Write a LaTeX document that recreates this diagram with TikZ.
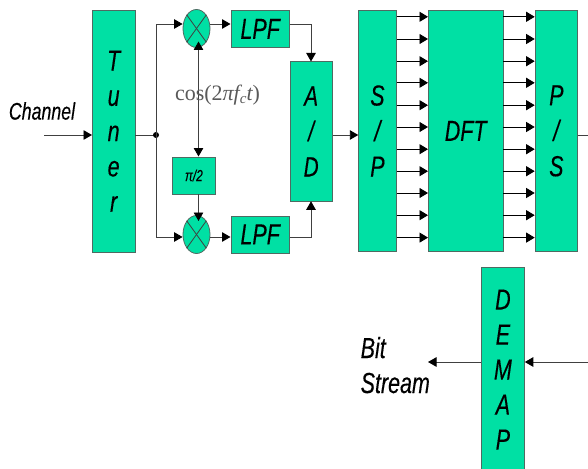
\documentclass[tikz,border=0pt]{standalone}
\usepackage{fontspec}
\setmainfont[FakeStretch=0.74,FakeBold=0.25]{Liberation Sans}
\newfontfamily\serifcos{Liberation Serif}
\usetikzlibrary{arrows.meta,shapes.geometric}
\definecolor{boxgreen}{HTML}{00E0A4}
\definecolor{edgegray}{HTML}{4F6A62}
\definecolor{wiregray}{HTML}{404040}
\tikzset{
  block/.style={draw=edgegray,line width=0.8pt,fill=boxgreen,inner sep=0pt,text=black,align=center,anchor=north west},
  bfont/.style 2 args={font=\fontsize{#1}{#2}\selectfont\itshape},
  wire/.style={draw=wiregray,line width=0.9pt,-{Triangle[length=8.5pt,width=9.5pt,black]}},
  bothwire/.style={draw=wiregray,line width=0.9pt,{Triangle[length=8.5pt,width=9.5pt,black]}-{Triangle[length=8.5pt,width=9.5pt,black]}},
  plainwire/.style={draw=wiregray,line width=1pt},
  busarrow/.style={draw=black,line width=0.9pt,-{Triangle[length=8.5pt,width=10pt,black]}},
  mixer/.style={draw=edgegray,line width=0.8pt,fill=boxgreen,ellipse,minimum width=27pt,minimum height=38pt,inner sep=0pt},
  lbl/.style={text=black,inner sep=0pt,align=left}
}
\begin{document}
\begin{tikzpicture}[x=1pt,y=-1pt]
\useasboundingbox (0,0) rectangle (588,468);
\clip (0,0) rectangle (588,468);
% blocks
\node[block,bfont={29}{35.3},minimum width=42.5pt,minimum height=241.5pt] (tuner) at (92,10) {T\\u\\n\\e\\r};
\node[block,bfont={29}{30},minimum width=58.5pt,minimum height=37pt] (lpfa) at (230.5,10) {LPF};
\node[block,bfont={29}{30},minimum width=58.5pt,minimum height=37pt] (lpfb) at (230.5,215.5) {LPF};
\node[block,bfont={28}{35.5},minimum width=42.5pt,minimum height=139pt] (ad) at (289.5,61.5) {A\\/\\D};
\node[block,bfont={16}{18},minimum width=43pt,minimum height=37pt] (shift) at (172,156.5) {π/2};
\node[block,bfont={29}{35.5},minimum width=37.5pt,minimum height=241pt] (sp) at (358.3,10) {S\\/\\P};
\node[block,bfont={29}{30},minimum width=74.5pt,minimum height=241pt] (dft) at (428,10) {DFT};
\node[block,bfont={29}{35.5},minimum width=42.5pt,minimum height=241pt] (ps) at (534.7,10) {P\\/\\S};
\node[block,bfont={29}{35},minimum width=43pt,minimum height=205pt] (demap) at (481,266.7) {D\\E\\M\\A\\P};
% mixers
\node[mixer] (mixa) at (196.5,28.5) {};
\node[mixer] (mixb) at (196.5,234.5) {};
\foreach \m in {mixa,mixb}{
  \draw[black!75,line width=0.8pt] (\m.north west)--(\m.south east);
  \draw[black!75,line width=0.8pt] (\m.north east)--(\m.south west);
}
% coordinates
\coordinate (chin) at (44,135);
\coordinate (junction) at (156,135);
\coordinate (uptop) at (156,24);
\coordinate (upbot) at (156,237);
\coordinate (adin) at (311,24);
\coordinate (adinb) at (311,237);
\coordinate (mixtip) at (198.5,41.5);
\coordinate (mixtipb) at (198.5,221);
\coordinate (psout) at (588,135);
\coordinate (demapin) at (588,362);
\coordinate (bitout) at (428,362);
\coordinate (mixaout) at (mixa.east |- uptop);
\coordinate (mixbout) at (mixb.east |- upbot);
% connectors
\draw[wire] (chin) -- (chin -| tuner.west);
\draw[plainwire] (junction -| tuner.east) -- (junction);
\fill[black] (junction) circle (3pt);
\draw[wire] (junction) -- (uptop) -- (uptop -| mixa.west);
\draw[wire] (junction) -- (upbot) -- (upbot -| mixb.west);
\draw[wire] (mixaout) -- (lpfa.west |- uptop);
\draw[wire] (mixbout) -- (lpfb.west |- upbot);
\draw[wire] (lpfa.east |- uptop) -- (adin) -- (ad.north -| adin);
\draw[wire] (lpfb.east |- upbot) -- (adinb) -- (ad.south -| adinb);
\draw[bothwire] (mixtip) -- (shift.north -| mixtip);
\draw[wire] (shift.south -| mixtip) -- (mixtipb);
\draw[wire] (ad.east |- junction) -- (sp.west |- junction);
\foreach \yy in {16.8,39,61.2,82.8,105.2,127,149.2,171.2,193,215.2,237.6}{
  \coordinate (t) at (0,\yy);
  \draw[busarrow] (sp.east |- t) -- (dft.west |- t);
  \draw[busarrow] (dft.east |- t) -- (ps.west |- t);
}
\draw[plainwire] (ps.east |- psout) -- (psout);
\draw[wire] (demapin) -- (demap.east |- demapin);
\draw[wire] (demap.west |- bitout) -- (bitout);
% labels
\node[lbl,bfont={24}{26},anchor=center] (chlabel) at (42,111) {Channel};
\node[lbl,bfont={29}{35},anchor=base west] (bitlabel) at (360.5,393) {Bit\\Stream};
\node[inner sep=0pt,text=black!65,anchor=center] (coslabel) at (217.5,95) {\serifcos\fontsize{22}{26}\selectfont cos(2{\itshape πf}{\fontsize{15}{15}\selectfont\raisebox{-3pt}{\itshape c}}{\itshape t})};
\end{tikzpicture}
\end{document}
